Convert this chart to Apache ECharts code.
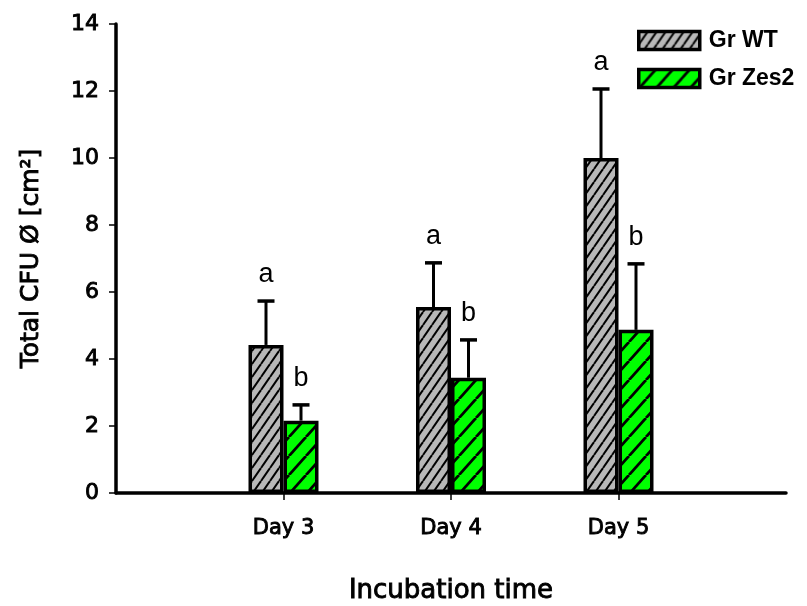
<!DOCTYPE html>
<html>
<head>
<meta charset="utf-8">
<script src="https://cdn.jsdelivr.net/npm/echarts@6/dist/echarts.min.js"></script>
<style>html,body{margin:0;padding:0;background:#fff}#c{width:807px;height:606px}</style>
</head>
<body>
<div id="c"></div>
<script>
var days = ['Day 3', 'Day 4', 'Day 5'];
var wtMean = [4.42, 5.55, 10.0];
var wtUpper = [5.73, 6.87, 12.06];
var wtLetters = ['a', 'a', 'a'];
var zesMean = [2.16, 3.44, 4.87];
var zesUpper = [2.63, 4.57, 6.84];
var zesLetters = ['b', 'b', 'b'];
var yTicks = [0, 2, 4, 6, 8, 10, 12, 14];

var categories = [''].concat(days).concat(['']);
function pad(a) { return [null].concat(a).concat([null]); }

function hatch(bg, w, h, lw) {
  var c = document.createElement('canvas');
  c.width = w; c.height = h;
  var ctx = c.getContext('2d');
  ctx.fillStyle = bg; ctx.fillRect(0, 0, w, h);
  ctx.strokeStyle = '#000'; ctx.lineWidth = lw;
  for (var k = -1; k <= 1; k++) {
    ctx.beginPath();
    ctx.moveTo(k * w, h);
    ctx.lineTo(k * w + w, 0);
    ctx.stroke();
  }
  return { image: c, repeat: 'repeat' };
}
var grayFill = hatch('#b8b8b8', 9, 13, 2);
var greenFill = hatch('#00ff00', 17, 19, 2.8);

var txt = { fontFamily: 'DejaVu Sans', color: '#000', textBorderColor: '#000', textBorderWidth: 0.9 };
function ts(size) { return Object.assign({ fontSize: size }, txt); }

function errData(mean, upper, letters) {
  return days.map(function (d, i) { return [i + 1, mean[i], upper[i], letters[i]]; });
}
function errSeries(name, data, dx) {
  return {
    type: 'custom', name: name + ' err', z: 5, silent: true,
    data: data,
    renderItem: function (params, api) {
      var p0 = api.coord([api.value(0), api.value(1)]);
      var p1 = api.coord([api.value(0), api.value(2)]);
      var x = p0[0] + dx;
      return {
        type: 'group', children: [
          { type: 'line', shape: { x1: x, y1: p0[1], x2: x, y2: p1[1] }, style: { stroke: '#000', lineWidth: 3 } },
          { type: 'line', shape: { x1: x - 8.5, y1: p1[1], x2: x + 8.5, y2: p1[1] }, style: { stroke: '#000', lineWidth: 3.5 } },
          { type: 'text', style: { x: x, y: p1[1] - 26, text: data[params.dataIndex][3], textAlign: 'center', textVerticalAlign: 'middle', font: '27px "Liberation Sans"', fill: '#000' } }
        ]
      };
    }
  };
}

var chart = echarts.init(document.getElementById('c'), null, { renderer: 'canvas' });
chart.setOption({
  animation: false,
  backgroundColor: '#fff',
  grid: { left: 116, right: 21, top: 24, bottom: 113, outerBoundsMode: 'none', containLabel: false },
  legend: {
    orient: 'vertical', left: 632, top: 24, itemWidth: 61, itemHeight: 18, itemGap: 15,
    icon: 'rect',
    data: ['Gr WT', 'Gr Zes2'],
    itemStyle: { borderColor: '#000', borderWidth: 3.5 },
    textStyle: { fontFamily: 'Liberation Sans', fontWeight: 'bold', fontSize: 23, color: '#000', padding: [0, 0, 0, 4] }
  },
  xAxis: {
    type: 'category', data: categories, boundaryGap: false,
    axisLine: { lineStyle: { color: '#000', width: 3.5 } },
    axisTick: { length: 7, lineStyle: { width: 1.5, color: '#000' }, interval: function (i, v) { return v !== ''; } },
    axisLabel: Object.assign({ interval: 0, margin: 25 }, ts(21)),
    name: 'Incubation time', nameLocation: 'middle', nameGap: 85,
    nameTextStyle: ts(26)
  },
  yAxis: {
    type: 'value', min: 0, max: 14, interval: 2,
    axisLine: { show: true, lineStyle: { color: '#000', width: 3.5 } },
    axisTick: { show: true, length: 7, lineStyle: { width: 1.5, color: '#000' } },
    splitLine: { show: false },
    axisLabel: Object.assign({ margin: 17,
      formatter: function (v) { return yTicks.indexOf(v) >= 0 ? String(v) : ''; } }, ts(22)),
    name: 'Total CFU Ø [cm²]', nameLocation: 'middle', nameGap: 72,
    nameTextStyle: ts(25)
  },
  series: [
    { name: 'Gr WT', type: 'bar', data: pad(wtMean), barWidth: 35, barGap: '0%',
      itemStyle: { color: grayFill, borderColor: '#000', borderWidth: 3.5 } },
    { name: 'Gr Zes2', type: 'bar', data: pad(zesMean), barWidth: 35, barGap: '0%',
      itemStyle: { color: greenFill, borderColor: '#000', borderWidth: 3.5 } },
    errSeries('Gr WT', errData(wtMean, wtUpper, wtLetters), -17.5),
    errSeries('Gr Zes2', errData(zesMean, zesUpper, zesLetters), 17.5)
  ]
});
</script>
</body>
</html>
